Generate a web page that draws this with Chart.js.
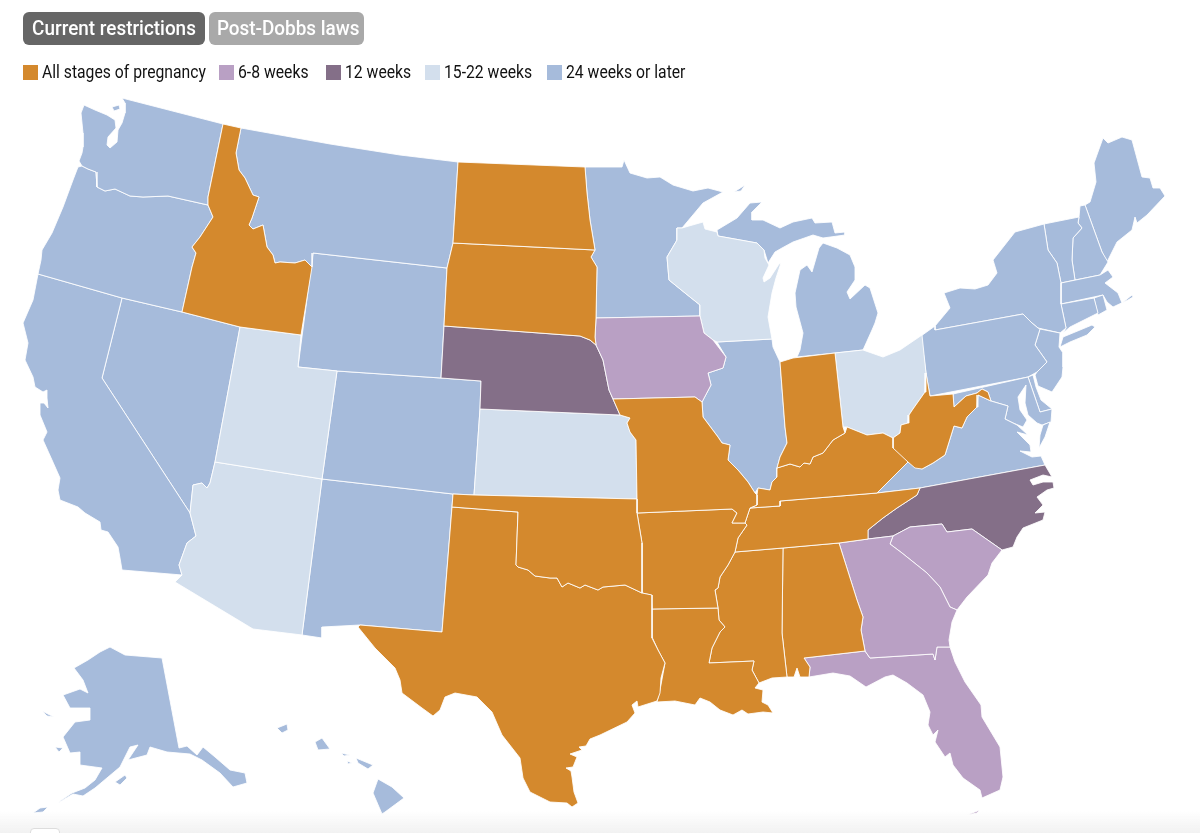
<!DOCTYPE html>
<html>
<head>
<meta charset="utf-8">
<style>
    html, body { margin: 0; padding: 0; background: #fff; }
    body { width: 1200px; height: 833px; position: relative; overflow: hidden; font-family: "Roboto", sans-serif; }
    #map { position: absolute; left: 0; top: 0; }
    #fade { position: absolute; left: 0; right: 0; bottom: 0; height: 22px; background: linear-gradient(rgba(240,240,240,0), rgba(240,240,240,.9)); }
    #corner { position: absolute; left: 30px; top: 828px; width: 28px; height: 12px; background: #fff; border: 1px solid #ddd; border-radius: 4px; }
    #buttons { position: absolute; left: 23px; top: 12px; display: flex; gap: 4px; }
    .tab { height: 33px; line-height: 33px; border-radius: 6px; color: #fff; font-size: 21px; font-weight: 500; text-align: center; box-sizing: border-box; white-space: nowrap; }
    .tab span { display: inline-block; transform: scaleX(.9); }
    #legend { position: absolute; left: 0; top: 61px; height: 22px; width: 800px; font-size: 18.5px; color: #111; }
    .item { position: absolute; top: 0; line-height: 22px; white-space: nowrap; }
    .item span.text { display: inline-block; transform: scaleX(.85); transform-origin: left center; }
    .swatch { display: inline-block; width: 15px; height: 15px; margin-right: 4px; vertical-align: -2px; }
</style>
</head>
<body>
<canvas id="map" width="1200" height="833"></canvas>
<div id="fade"></div>
<div id="corner"></div>
<div id="buttons"></div>
<div id="legend"></div>
<script src="https://cdn.jsdelivr.net/npm/chart.js@4"></script>
<script>
// Tabs and legend
const tabLabels = ["Current restrictions", "Post-Dobbs laws"];
const categories = ["All stages of pregnancy", "6-8 weeks", "12 weeks", "15-22 weeks", "24 weeks or later"];
const categoryColors = ["#D4892D", "#B9A0C4", "#846F88", "#D3DFED", "#A6BBDB"];

// State outlines in map units, x,y,x,y...
const washington = [223,124,122,98,125,103,125,113,122,123,118,130,117,142,110,148,107,145,108,137,116,128,115,120,107,115,95,110,84,105,81,113,83,133,83,147,82,153,79,161,82,166,88,169,96,172,97,187,105,191,115,189,130,196,143,197,168,196,208,205,208,197];
const sanJuan = [112,107,119,105,120,109,114,111];
const oregon = [82,166,88,169,96,172,97,187,105,191,115,189,130,196,143,197,168,196,208,205,213,217,200,237,192,247,196,253,192,267,182,312,122,298,38,274,41,260,42,250,52,233,63,207,73,180,78,167];
const california = [38,274,122,298,102,378,190,513,196,536,187,543,179,565,182,575,122,570,120,558,118,547,108,532,101,530,100,522,85,513,78,507,60,500,58,490,60,478,52,460,43,440,47,432,40,415,40,403,44,403,48,408,47,398,47,390,43,392,35,387,33,377,25,360,28,343,23,323,33,300];
const nevada = [122,298,182,312,240,327,215,462,210,483,207,488,202,483,193,485,190,513,102,378];
const idaho = [223,124,241,128,236,153,239,170,245,178,253,195,259,197,252,218,249,225,253,229,263,225,267,247,273,255,275,263,280,262,295,263,305,260,312,267,301,335,240,327,182,312,192,267,196,253,192,247,200,237,213,217,208,205,208,197];
const montana = [241,128,330,144,400,155,458,162,453,243,447,268,313,253,312,267,305,260,295,263,280,262,275,263,273,255,267,247,263,225,253,229,249,225,252,218,259,197,253,195,245,178,239,170,236,153];
const wyoming = [313,253,447,268,444,326,441,378,337,371,298,367];
const utah = [240,327,301,335,298,367,337,371,322,479,215,462];
const arizona = [215,462,322,479,302,635,253,629,175,582,182,575,179,565,187,543,196,536,190,513,193,485,202,483,207,488,210,483];
const colorado = [337,371,441,378,481,381,480,409,474,495,453,494,322,479];
const newMexico = [322,479,453,494,452,507,442,632,360,625,322,627,322,638,302,635];
const northDakota = [458,162,585,167,587,193,590,220,595,250,453,243];
const southDakota = [453,243,595,250,591,257,597,267,596,318,595,337,596,345,590,340,580,336,444,326,447,268];
const nebraska = [444,326,580,336,590,340,596,345,603,360,609,390,620,415,480,409,481,381,441,378];
const kansas = [480,409,620,415,630,418,627,423,630,432,636,440,637,499,474,495];
const oklahoma = [453,494,474,495,637,499,637,513,642,543,642,593,625,585,603,587,598,590,585,585,580,588,568,583,562,587,557,578,550,578,535,576,528,570,518,567,516,565,518,512,452,507];
const texas = [452,507,518,512,516,565,518,567,528,570,535,576,550,578,557,578,562,587,568,583,580,588,585,585,598,590,603,587,625,585,642,593,652,595,652,638,658,650,665,663,661,678,660,693,657,701,638,707,637,701,632,705,635,713,627,722,600,735,590,739,586,746,579,747,582,750,570,754,577,757,573,767,566,768,571,771,572,777,574,792,578,803,572,807,567,803,550,802,530,792,523,778,520,758,502,735,492,712,477,697,455,693,445,697,440,710,433,716,422,708,402,693,400,680,395,668,375,648,358,627,360,625,442,632];
const minnesota = [585,167,622,167,624,160,630,173,647,178,660,177,673,185,693,191,708,188,723,192,703,203,682,228,677,228,677,240,667,257,669,280,685,293,700,305,700,316,596,318,597,267,591,257,595,250,590,220,587,193];
const iowa = [596,318,700,316,704,333,713,340,726,357,723,368,708,373,711,385,702,402,695,397,613,399,609,390,603,360,596,345,595,337];
const missouri = [613,399,695,397,702,402,703,417,718,437,722,443,730,445,728,460,738,470,748,482,755,493,757,495,757,505,750,508,745,523,732,523,737,513,732,509,637,513,637,499,636,440,630,432,627,423,630,418,620,415];
const arkansas = [637,513,732,509,737,513,732,523,745,523,747,525,738,538,735,552,728,565,720,577,718,588,715,590,718,608,652,609,651,595,642,593,642,543];
const louisiana = [652,609,718,608,719,620,725,627,720,632,712,648,709,663,754,661,752,670,759,683,755,688,763,690,762,702,768,705,773,713,763,712,748,714,742,710,733,715,720,710,710,702,700,698,695,705,675,701,657,702,660,690,665,663,658,650,652,637];
const wisconsin = [677,228,682,228,703,222,705,229,717,232,718,236,757,243,764,250,765,258,769,265,763,278,764,282,770,278,779,264,781,263,776,278,772,293,768,317,772,339,717,342,713,340,704,333,700,316,700,305,685,293,669,280,667,257,677,240];
const illinois = [717,342,772,339,773,347,780,362,785,427,787,443,780,457,777,468,777,477,772,482,770,490,758,488,755,493,748,482,738,470,728,460,730,445,722,443,718,437,703,417,702,402,711,385,708,373,723,368,726,357];
const michiganUpper = [717,230,737,218,750,203,762,202,752,212,752,220,763,220,780,228,793,222,812,218,815,223,832,222,835,233,845,232,845,235,823,238,813,235,793,242,782,248,775,252,768,263,764,250,757,243,718,236];
const michiganLower = [797,357,835,353,863,350,872,330,875,323,878,313,870,288,865,285,850,299,847,292,855,280,855,267,850,255,837,248,823,243,819,248,812,272,807,265,800,270,795,293,796,307,803,333,800,350];
const isleRoyale = [734,192,745,185,741,191];
const indiana = [780,362,793,358,835,353,843,427,845,433,833,440,823,453,813,457,810,464,804,463,800,467,790,464,777,468,780,457,787,443,785,427];
const ohio = [835,353,863,350,883,357,900,350,922,335,926,373,925,392,913,409,909,415,908,423,901,425,900,433,893,438,883,433,867,435,847,427,843,427];
const kentucky = [750,508,757,505,757,495,758,488,770,490,772,482,777,477,777,468,790,464,800,467,804,463,810,464,813,457,823,453,833,440,845,433,847,427,867,435,883,433,893,438,893,448,908,462,897,473,877,493,780,501,780,506];
const tennessee = [735,552,783,548,839,543,868,539,868,530,883,518,897,508,917,495,920,488,877,493,780,501,780,506,750,508,745,523,747,525,738,538];
const mississippi = [735,552,783,548,782,633,787,677,772,678,759,683,752,670,754,661,709,663,712,648,720,632,725,627,719,620,718,608,715,590,718,588,720,577,728,565];
const alabama = [783,548,839,543,857,600,863,617,861,630,865,651,804,658,810,667,809,677,800,677,797,668,794,677,787,677,782,633];
const georgia = [839,543,868,539,893,536,890,544,902,553,927,573,940,587,950,607,957,610,952,622,949,640,950,647,937,647,935,660,933,654,870,658,865,651,861,630,863,617,857,600];
const florida = [804,658,865,651,870,658,933,654,935,660,937,647,950,647,955,662,965,682,981,705,982,717,1000,747,1003,777,1000,790,982,798,980,790,963,778,953,765,950,753,945,757,935,742,938,730,933,735,928,725,930,712,923,695,907,683,893,675,885,677,866,687,850,676,833,673,809,677,810,667];
const floridaKeys = [967,815,980,810,977,813];
const southCarolina = [893,536,910,527,942,524,947,532,972,529,1002,550,992,563,988,575,967,597,957,610,950,607,940,587,927,573,902,553,890,544];
const northCarolina = [868,539,868,530,883,518,897,508,917,495,920,488,1045,465,1052,477,1043,475,1030,480,1033,485,1043,482,1053,482,1054,488,1047,490,1037,497,1043,505,1035,513,1045,512,1043,520,1023,528,1017,537,1013,547,1002,550,972,529,947,532,942,524,910,527,893,536];
const virginia = [877,493,897,473,908,462,922,469,933,463,945,455,954,426,962,428,967,417,977,407,978,395,991,401,1008,406,1005,419,1017,425,1028,435,1017,432,1030,445,1031,452,1020,451,1032,457,1041,456,1045,465,920,488];
const virginiaShore = [1039,448,1040,435,1043,425,1050,422,1045,437];
const westVirginia = [926,373,930,396,953,394,954,407,966,396,977,393,982,389,988,392,991,401,978,395,977,407,967,417,962,428,954,426,945,455,933,463,922,469,915,468,908,462,898,455,893,448,893,438,900,433,901,425,908,423,909,415,913,409,925,392];
const maryland = [953,394,1028,377,1040,412,1052,409,1051,422,1042,425,1037,423,1028,415,1025,403,1026,385,1018,397,1020,410,1027,420,1023,427,1013,423,1005,419,1008,406,991,401,988,392,982,389,977,393,966,396,954,407];
const delaware = [1028,377,1033,375,1036,387,1041,400,1052,409,1040,412];
const pennsylvania = [921,336,935,326,935,330,1023,314,1032,323,1038,328,1040,329,1035,345,1047,362,1037,372,1028,377,930,396,926,373];
const newJersey = [1040,329,1060,333,1059,347,1063,353,1063,367,1062,377,1052,392,1038,386,1035,375,1037,372,1047,362,1035,345];
const newYork = [935,326,950,308,944,293,960,288,975,289,988,285,997,273,993,260,1015,232,1044,224,1048,250,1057,263,1061,283,1061,304,1066,328,1060,333,1038,328,1032,323,1023,314,935,330];
const longIsland = [1060,347,1063,337,1080,330,1092,325,1095,327,1087,335,1070,342];
const connecticut = [1061,304,1094,298,1098,313,1070,327,1063,333,1066,328];
const rhodeIsland = [1094,298,1103,295,1107,310,1098,315];
const massachusetts = [1061,283,1100,275,1108,270,1113,277,1105,283,1118,293,1122,303,1132,295,1133,297,1128,300,1113,307,1107,302,1103,295,1061,304];
const vermont = [1044,224,1079,217,1078,223,1082,228,1073,238,1072,260,1075,280,1061,283,1057,263,1048,250];
const newHampshire = [1079,217,1080,206,1085,205,1102,252,1108,262,1100,275,1075,280,1072,260,1073,238,1082,228,1078,223];
const maine = [1085,205,1090,202,1096,182,1094,163,1103,138,1108,143,1122,137,1132,140,1142,177,1150,178,1153,188,1160,188,1165,196,1147,215,1142,219,1137,223,1135,217,1132,230,1117,242,1107,262,1102,252];
const alaska = [110,647,125,655,162,658,179,748,187,746,197,755,203,747,215,757,230,770,245,773,247,783,233,787,220,773,202,760,190,754,167,752,150,747,147,755,128,760,138,745,130,747,120,767,95,788,83,796,73,794,58,803,60,801,72,793,85,788,95,780,102,768,80,765,80,752,70,753,63,737,75,722,90,720,90,708,70,708,63,695,80,689,88,693,83,680,74,668,88,660,100,652];
const alaskaTail = [33,813,40,808,48,807,43,812];
const kodiak = [115,782,125,775,127,778,120,785];
const stLawrence = [42,711,54,717,47,716];
const nunivak = [55,747,63,748,59,752];
const hawaiiBig = [378,779,392,787,404,798,385,812,382,814,373,793];
const maui = [356,758,373,765,368,769,358,763];
const oahu = [315,742,322,738,330,749,318,750];
const kauai = [277,728,287,724,288,730,282,733];
const molokai = [341,753,350,755,344,756];
const lanai = [347,761,352,763,348,764];

// Which outlines belong to which category, same order as categories
const allStagesStates = [idaho, northDakota, southDakota, oklahoma, texas, missouri, arkansas, louisiana, indiana, kentucky, tennessee, mississippi, alabama, westVirginia];
const sixToEightStates = [iowa, georgia, southCarolina, florida, floridaKeys];
const twelveWeekStates = [nebraska, northCarolina];
const fifteenToTwentyTwoStates = [utah, arizona, kansas, wisconsin, ohio];
const twentyFourStates = [washington, sanJuan, oregon, california, nevada, montana, wyoming, colorado, newMexico, minnesota, illinois, michiganUpper, michiganLower, isleRoyale, virginia, virginiaShore, maryland, delaware, pennsylvania, newJersey, newYork, longIsland, connecticut, rhodeIsland, massachusetts, vermont, newHampshire, maine, alaska, alaskaTail, kodiak, stLawrence, nunivak, hawaiiBig, maui, oahu, kauai, molokai, lanai];
const categoryStates = [allStagesStates, sixToEightStates, twelveWeekStates, fifteenToTwentyTwoStates, twentyFourStates];

// Tabs
const tabWidths = [182, 155];
const tabColors = ["#666666", "#A9A9A9"];
tabLabels.forEach(function (label, i) {
    let tab = document.createElement("div");
    tab.className = "tab";
    tab.style.width = tabWidths[i] + "px";
    tab.style.background = tabColors[i];
    let text = document.createElement("span");
    text.textContent = label;
    tab.appendChild(text);
    document.getElementById("buttons").appendChild(tab);
});

// Legend
const legendLefts = [23, 219, 326, 425, 547];
categories.forEach(function (label, i) {
    let item = document.createElement("div");
    item.className = "item";
    item.style.left = legendLefts[i] + "px";
    let swatch = document.createElement("span");
    swatch.className = "swatch";
    swatch.style.background = categoryColors[i];
    item.appendChild(swatch);
    let text = document.createElement("span");
    text.className = "text";
    text.textContent = label;
    item.appendChild(text);
    document.getElementById("legend").appendChild(item);
});

// One closed line dataset per outline
function toPoints(flat) {
    let points = [];
    for (let i = 0; i < flat.length; i += 2) {
        points.push({ x: flat[i], y: flat[i + 1] });
    }
    points.push({ x: flat[0], y: flat[1] });
    return points;
}

let datasets = [];
categoryStates.forEach(function (states, i) {
    states.forEach(function (outline) {
        datasets.push({
            label: categories[i],
            data: toPoints(outline),
            showLine: true,
            fill: "shape",
            backgroundColor: categoryColors[i],
            borderColor: "rgba(255, 255, 255, .85)",
            borderWidth: 1,
            borderJoinStyle: "round",
            pointRadius: 0,
            tension: 0
        });
    });
});

new Chart(document.getElementById("map").getContext("2d"), {
    type: "scatter",
    data: { datasets: datasets },
    options: {
        responsive: false,
        animation: false,
        layout: { padding: 0 },
        plugins: { legend: { display: false }, tooltip: { enabled: false } },
        scales: {
            x: { type: "linear", min: 0, max: 1200, display: false },
            y: { type: "linear", min: 0, max: 833, reverse: true, display: false }
        }
    }
});
</script>
</body>
</html>
